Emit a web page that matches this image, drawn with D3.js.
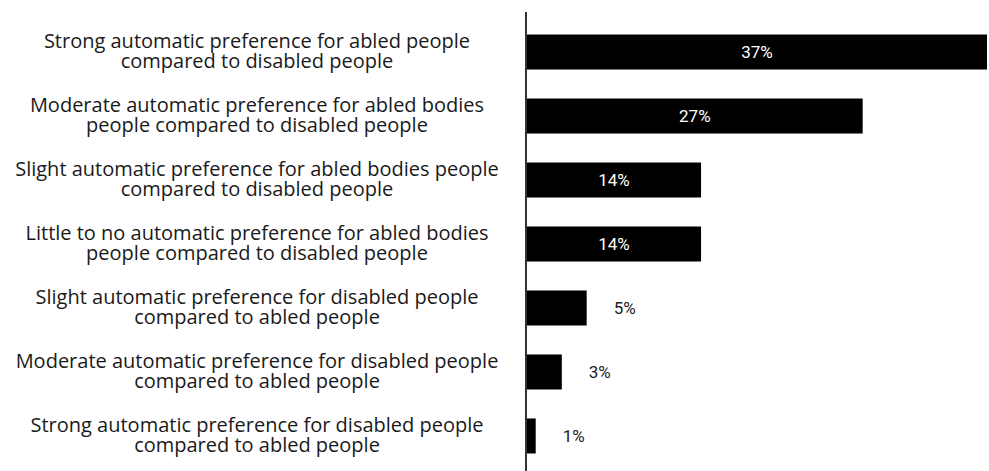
<!DOCTYPE html>
<html>
<head>
<meta charset="utf-8">
<script src="https://cdn.jsdelivr.net/npm/d3@7"></script>
<style>
    body { margin: 0; background: #fff; }
    svg { display: block; }
</style>
</head>
<body>
<svg id="chart" width="989" height="471"></svg>
<script>
let categories = [
    ["Strong automatic preference for abled people", "compared to disabled people"],
    ["Moderate automatic preference for abled bodies", "people compared to disabled people"],
    ["Slight automatic preference for abled bodies people", "compared to disabled people"],
    ["Little to no automatic preference for abled bodies", "people compared to disabled people"],
    ["Slight automatic preference for disabled people", "compared to abled people"],
    ["Moderate automatic preference for disabled people", "compared to abled people"],
    ["Strong automatic preference for disabled people", "compared to abled people"]
];
let values = [37, 27, 14, 14, 4.8, 2.8, 0.7];

function render() {
    let svg = d3.select("#chart");
    let axisX = 526;
    let labelX = 257;

    let xScale = d3.scaleLinear().domain([0, 37]).range([axisX + 1, 987]);
    let yScale = d3.scaleBand()
        .domain(d3.range(values.length))
        .range([20, 468])
        .paddingInner(0.453)
        .paddingOuter(0.227);

    let fmt = d => Math.round(d) + "%";

    svg.selectAll(".bar")
        .data(values)
        .enter()
        .append("rect")
        .classed("bar", true)
        .attr("x", xScale(0))
        .attr("y", (d, i) => yScale(i))
        .attr("width", d => xScale(d) - xScale(0))
        .attr("height", yScale.bandwidth())
        .attr("fill", "#000");

    // value labels: inside if bar is wide, outside otherwise
    svg.selectAll(".val")
        .data(values)
        .enter()
        .append("text")
        .classed("val", true)
        .attr("x", d => d >= 10 ? (xScale(0) + xScale(d)) / 2 : xScale(d) + 27)
        .attr("y", (d, i) => yScale(i) + yScale.bandwidth() / 2)
        .attr("dy", "0.35em")
        .attr("text-anchor", d => d >= 10 ? "middle" : "start")
        .attr("fill", d => d >= 10 ? "#fff" : "#222")
        .attr("font-family", "Roboto, sans-serif")
        .attr("font-size", "17px")
        .text(fmt);

    let labels = svg.selectAll(".cat")
        .data(categories)
        .enter()
        .append("text")
        .classed("cat", true)
        .attr("text-anchor", "middle")
        .attr("font-family", "'Open Sans', sans-serif")
        .attr("font-size", "20px")
        .attr("fill", "#1a1a1a");

    labels.selectAll("tspan")
        .data((d, i) => d.map((line, j) => ({ line: line, j: j, i: i })))
        .enter()
        .append("tspan")
        .attr("x", labelX)
        .attr("y", d => yScale(d.i) + yScale.bandwidth() / 2 + (d.j === 0 ? -4 : 16))
        .text(d => d.line);

    svg.append("line")
        .attr("x1", axisX)
        .attr("x2", axisX)
        .attr("y1", 12)
        .attr("y2", 471)
        .attr("stroke", "#333")
        .attr("stroke-width", 2);
}

document.addEventListener('DOMContentLoaded', render);
</script>
</body>
</html>
